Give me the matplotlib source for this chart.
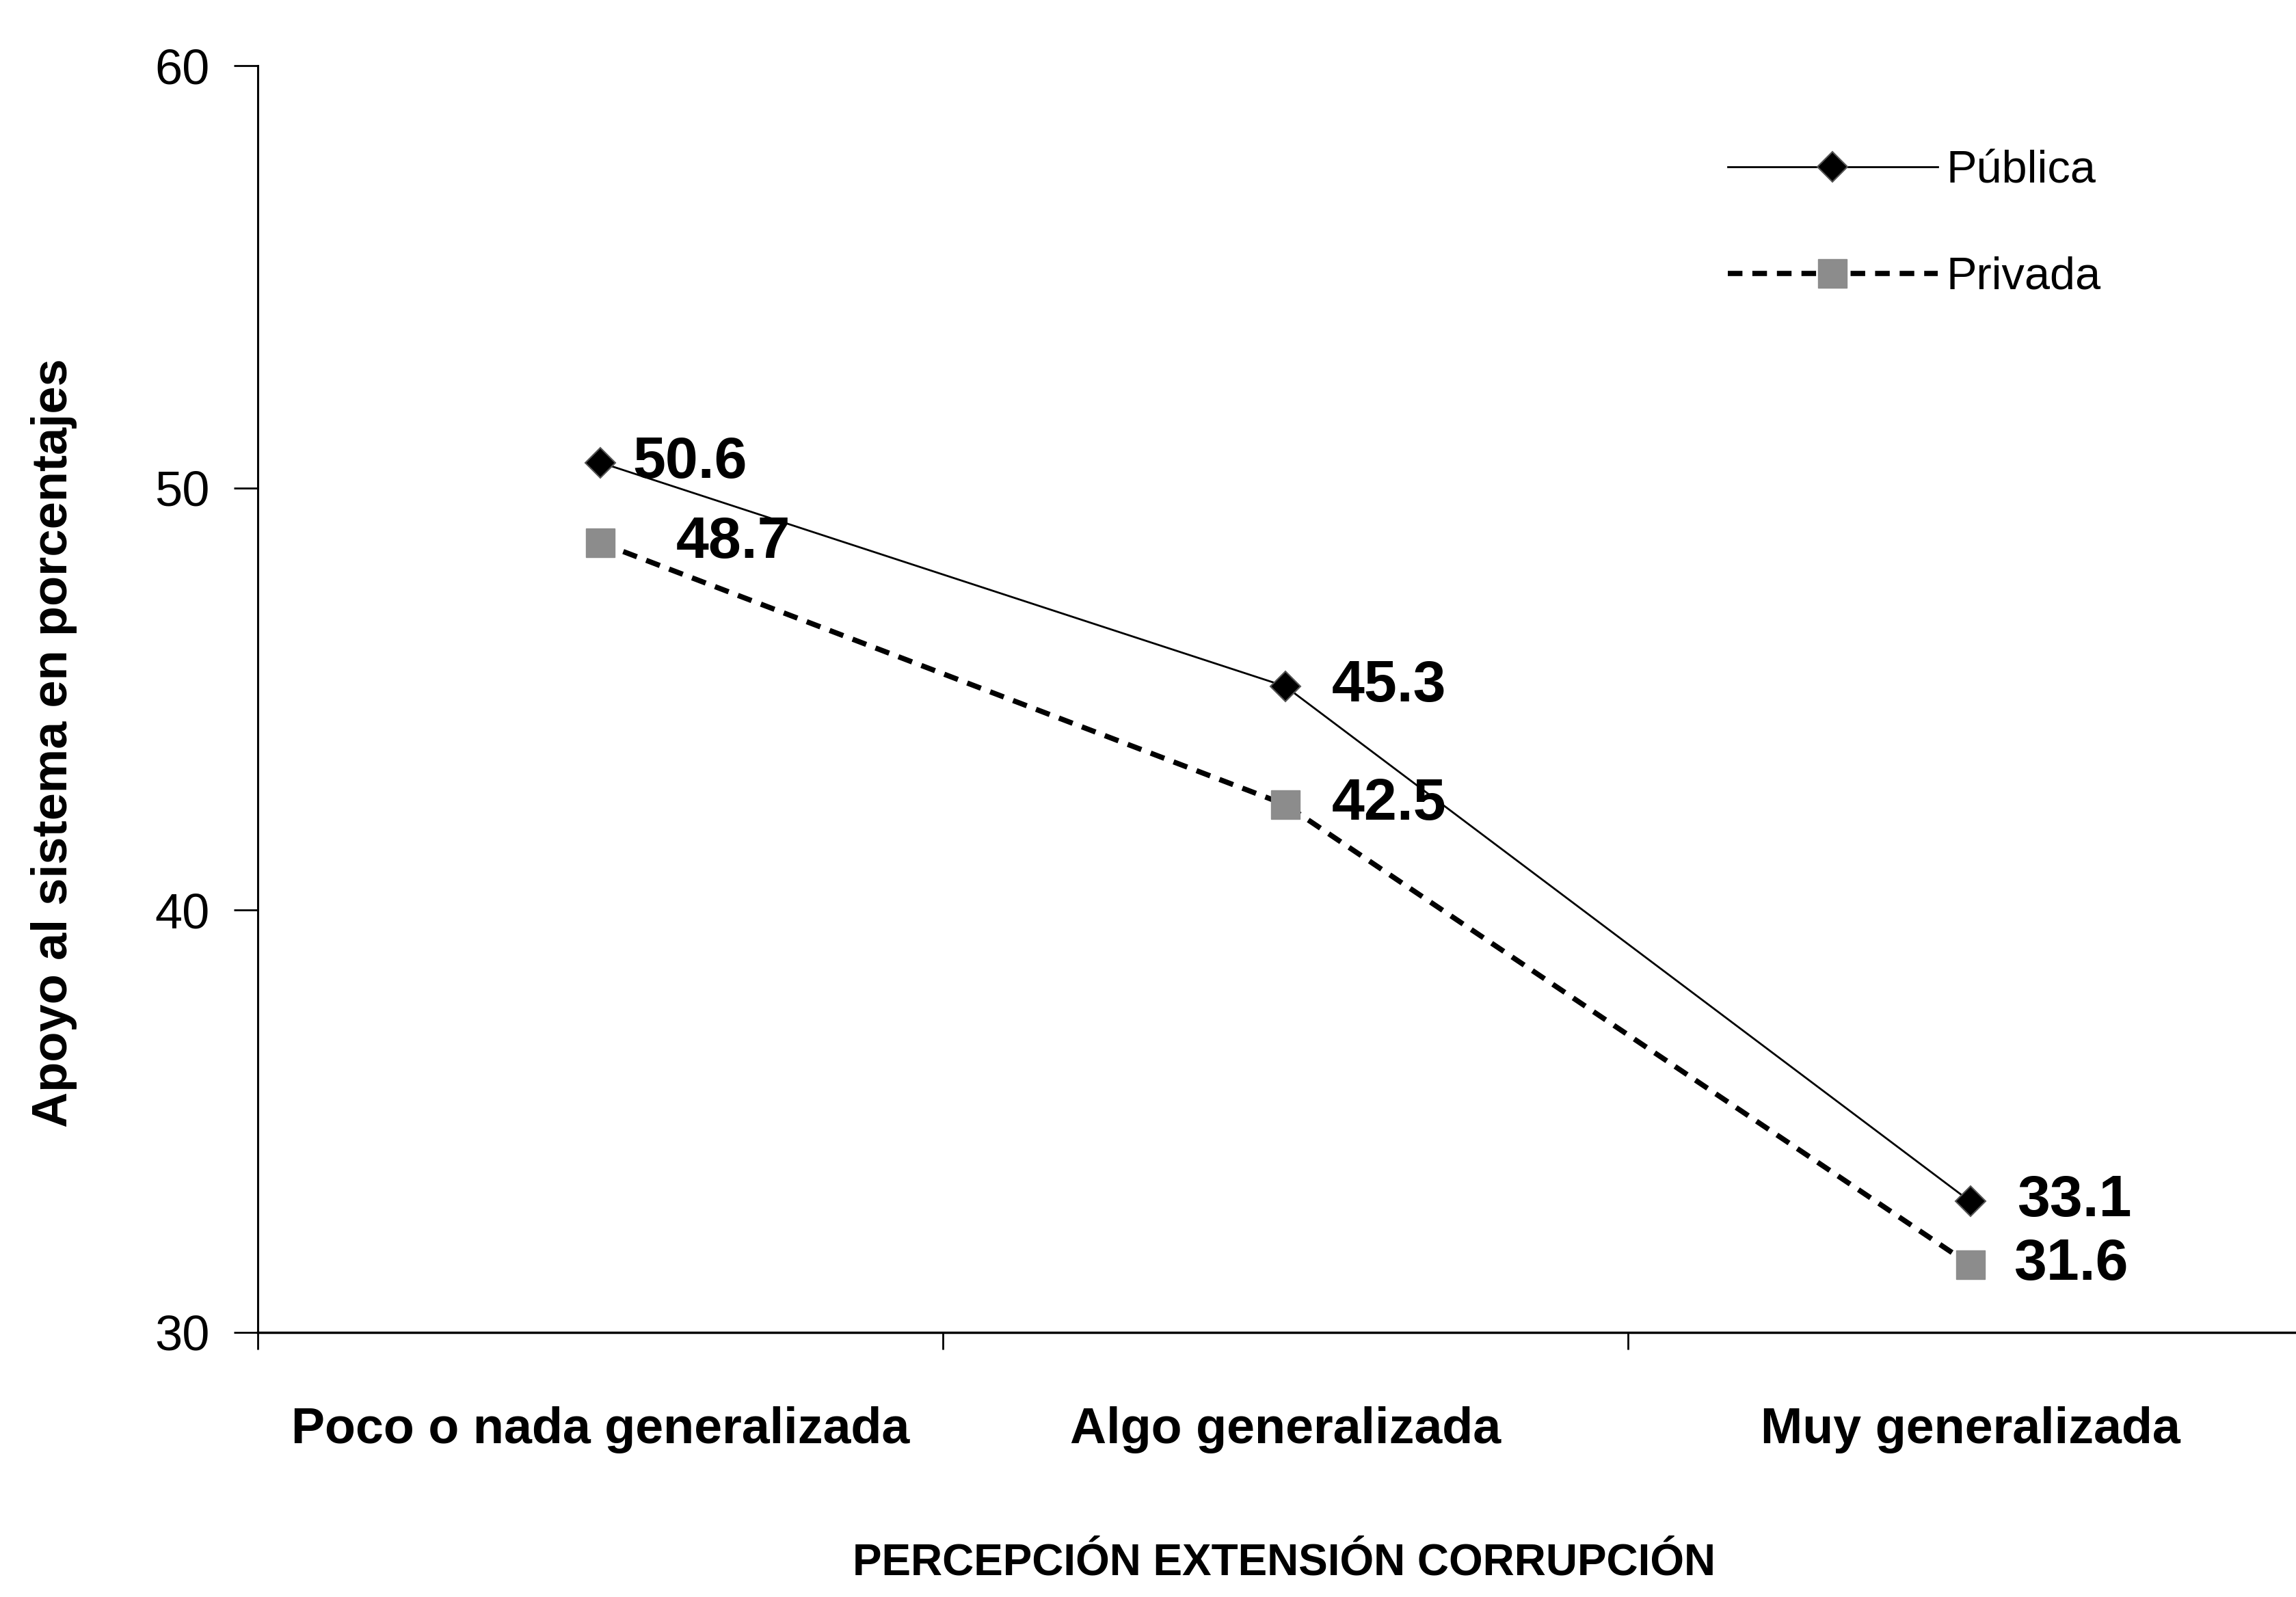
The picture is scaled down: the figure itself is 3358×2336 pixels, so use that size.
import matplotlib
matplotlib.use("Agg")
import matplotlib.pyplot as plt

categorias = ["Poco o nada generalizada", "Algo generalizada", "Muy generalizada"]
publica = [50.6, 45.3, 33.1]
privada = [48.7, 42.5, 31.6]
y_ticks = [30, 40, 50, 60]

plt.rcParams['font.family'] = ['Liberation Sans Narrow', 'Liberation Sans', 'DejaVu Sans']

fig = plt.figure(figsize=(33.58, 23.36), dpi=100)
ax = fig.add_axes([0.1123, 0.1657, 0.895, 0.7932])

x = [i + 0.5 for i in range(len(categorias))]

ax.plot(x, publica, color="black", lw=2, marker="D", ms=22,
        mfc="black", mec="#555555", mew=1.5, label="Pública", zorder=3)
ax.plot(x, privada, color="black", lw=5.5, ls=(0, (2.8, 1.9)), marker="s", ms=30,
        mfc="#8c8c8c", mec="#8c8c8c", label="Privada", zorder=3)

# etiquetas de valores
off_pub = [34, 49, 49]
off_priv = [80, 49, 46]
for xi, v, o in zip(x, publica, off_pub):
    ax.annotate(f"{v:.1f}", (xi, v), xytext=(o, 0), textcoords="offset points",
                ha="left", va="center", fontsize=62, fontweight="bold")
for xi, v, o in zip(x, privada, off_priv):
    ax.annotate(f"{v:.1f}", (xi, v), xytext=(o, 0), textcoords="offset points",
                ha="left", va="center", fontsize=62, fontweight="bold")

ax.set_xlim(0, 3)
ax.set_ylim(30, 60)
ax.set_yticks(y_ticks)
ax.tick_params(axis="y", direction="out", length=25, width=2, pad=26, labelsize=52)

ax.set_xticks([0, 1, 2, 3])
ax.set_xticklabels([])
ax.set_xticks(x, minor=True)
ax.set_xticklabels(categorias, minor=True, fontsize=53, fontweight="bold")
ax.tick_params(axis="x", which="major", direction="out", length=18, width=2)
ax.tick_params(axis="x", which="minor", length=0, pad=78)

for s in ["top", "right"]:
    ax.spines[s].set_visible(False)
ax.spines["left"].set_linewidth(2.2)
ax.spines["bottom"].set_linewidth(2.5)

fig.text(0.0235, 0.535, "Apoyo al sistema en porcentajes", rotation=90,
         ha="center", va="center", fontsize=52, fontweight="bold")
fig.text(0.5593, 0.021, "PERCEPCIÓN EXTENSIÓN CORRUPCIÓN",
         ha="center", va="center", fontsize=46, fontweight="bold")

leg = ax.legend(loc="upper left", bbox_to_anchor=(0.7525, 0.906),
                bbox_transform=fig.transFigure, frameon=False, fontsize=48,
                handlelength=4.6, handletextpad=0.2, labelspacing=1.4,
                borderpad=0, borderaxespad=0)

fig.savefig("out.png", dpi=100, facecolor="white")
